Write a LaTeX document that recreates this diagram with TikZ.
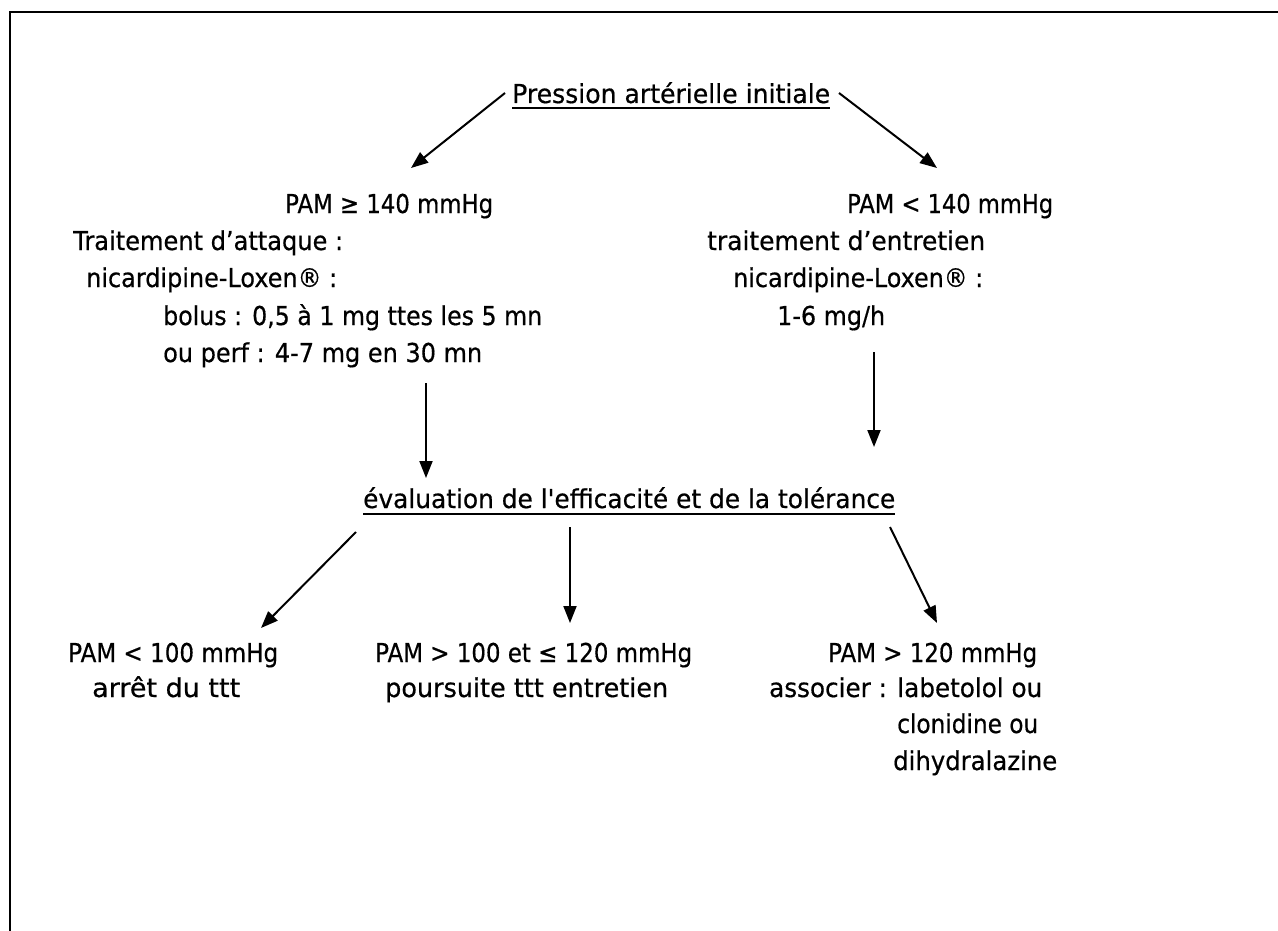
\documentclass[tikz,border=0pt]{standalone}
\usepackage{fontspec}
\usepackage{graphicx}
\newfontfamily\djv{DejaVu Sans}[FakeBold=0.6]
\usetikzlibrary{arrows.meta}
\newcommand{\fw}[2]{\resizebox{#1pt}{1.04\height}{#2}}
\begin{document}
\begin{tikzpicture}[x=1pt,y=-1pt,
  txt/.style={anchor=base west, inner sep=0pt, font=\djv\fontsize{25pt}{30pt}\selectfont},
  arr/.style={line width=2pt, -{Triangle[length=17pt,width=13pt]}},
  ul/.style={line width=2.4pt}]
\useasboundingbox (0,0) rectangle (1278,931);
\draw[line width=2.5pt] (10,12) rectangle (1330,990);

% title
\node[txt] (title) at (512,103) {\fw{318}{Pression artérielle initiale}};
\draw[ul] ([yshift=-5pt]title.base west) -- ([yshift=-5pt]title.base east);

% left branch
\node[txt] (pamA) at (285,213) {\fw{208}{PAM ≥ 140 mmHg}};
\node[txt] (tA1) at (73,250) {\fw{270}{Traitement d’attaque :}};
\node[txt] (tA2) at (86,287) {\fw{251}{nicardipine-Loxen® :}};
\node[txt] (tA3) at (163,325) {\fw{379}{bolus : 0,5 à 1 mg ttes les 5 mn}};
\node[txt] (tA4) at (163,362) {\fw{319}{ou perf : 4-7 mg en 30 mn}};

% right branch
\node[txt] (pamB) at (847,213) {\fw{206}{PAM < 140 mmHg}};
\node[txt] (tB1) at (707,250) {\fw{278}{traitement d’entretien}};
\node[txt] (tB2) at (733,287) {\fw{250}{nicardipine-Loxen® :}};
\node[txt] (tB3) at (777,325) {\fw{108}{1-6 mg/h}};

% evaluation
\node[txt] (eval) at (363,508) {\fw{532}{évaluation de l'efficacité et de la tolérance}};
\draw[ul] ([yshift=-6pt]eval.base west) -- ([yshift=-6pt]eval.base east);

% bottom
\node[txt] (c1a) at (68,662) {\fw{210}{PAM < 100 mmHg}};
\node[txt] (c1b) at (92,697) {\fw{148}{arrêt du ttt}};
\node[txt] (c2a) at (375,662) {\fw{317}{PAM > 100 et ≤ 120 mmHg}};
\node[txt] (c2b) at (385,697) {\fw{283}{poursuite ttt entretien}};
\node[txt] (c3a) at (828,662) {\fw{209}{PAM > 120 mmHg}};
\node[txt] (c3b) at (769,697) {\fw{273}{associer : labetolol ou}};
\node[txt] (c3c) at (897,733) {\fw{141}{clonidine ou}};
\node[txt] (c3d) at (893,770) {\fw{164}{dihydralazine}};

% connector end points
\coordinate (s1) at (505,93);
\coordinate (e1) at (411,168);
\coordinate (s2) at (839,93);
\coordinate (e2) at (937,168);
\coordinate (s3) at (426,383);
\coordinate (e3) at (426,478);
\coordinate (s4) at (874,352);
\coordinate (e4) at (874,447);
\coordinate (s5) at (356,532);
\coordinate (e5) at (261,628);
\coordinate (s6) at (570,527);
\coordinate (e6) at (570,623);
\coordinate (s7) at (890,527);
\coordinate (e7) at (937,623);

\draw[arr] (s1) -- (e1);
\draw[arr] (s2) -- (e2);
\draw[arr] (s3) -- (e3);
\draw[arr] (s4) -- (e4);
\draw[arr] (s5) -- (e5);
\draw[arr] (s6) -- (e6);
\draw[arr] (s7) -- (e7);
\end{tikzpicture}
\end{document}
